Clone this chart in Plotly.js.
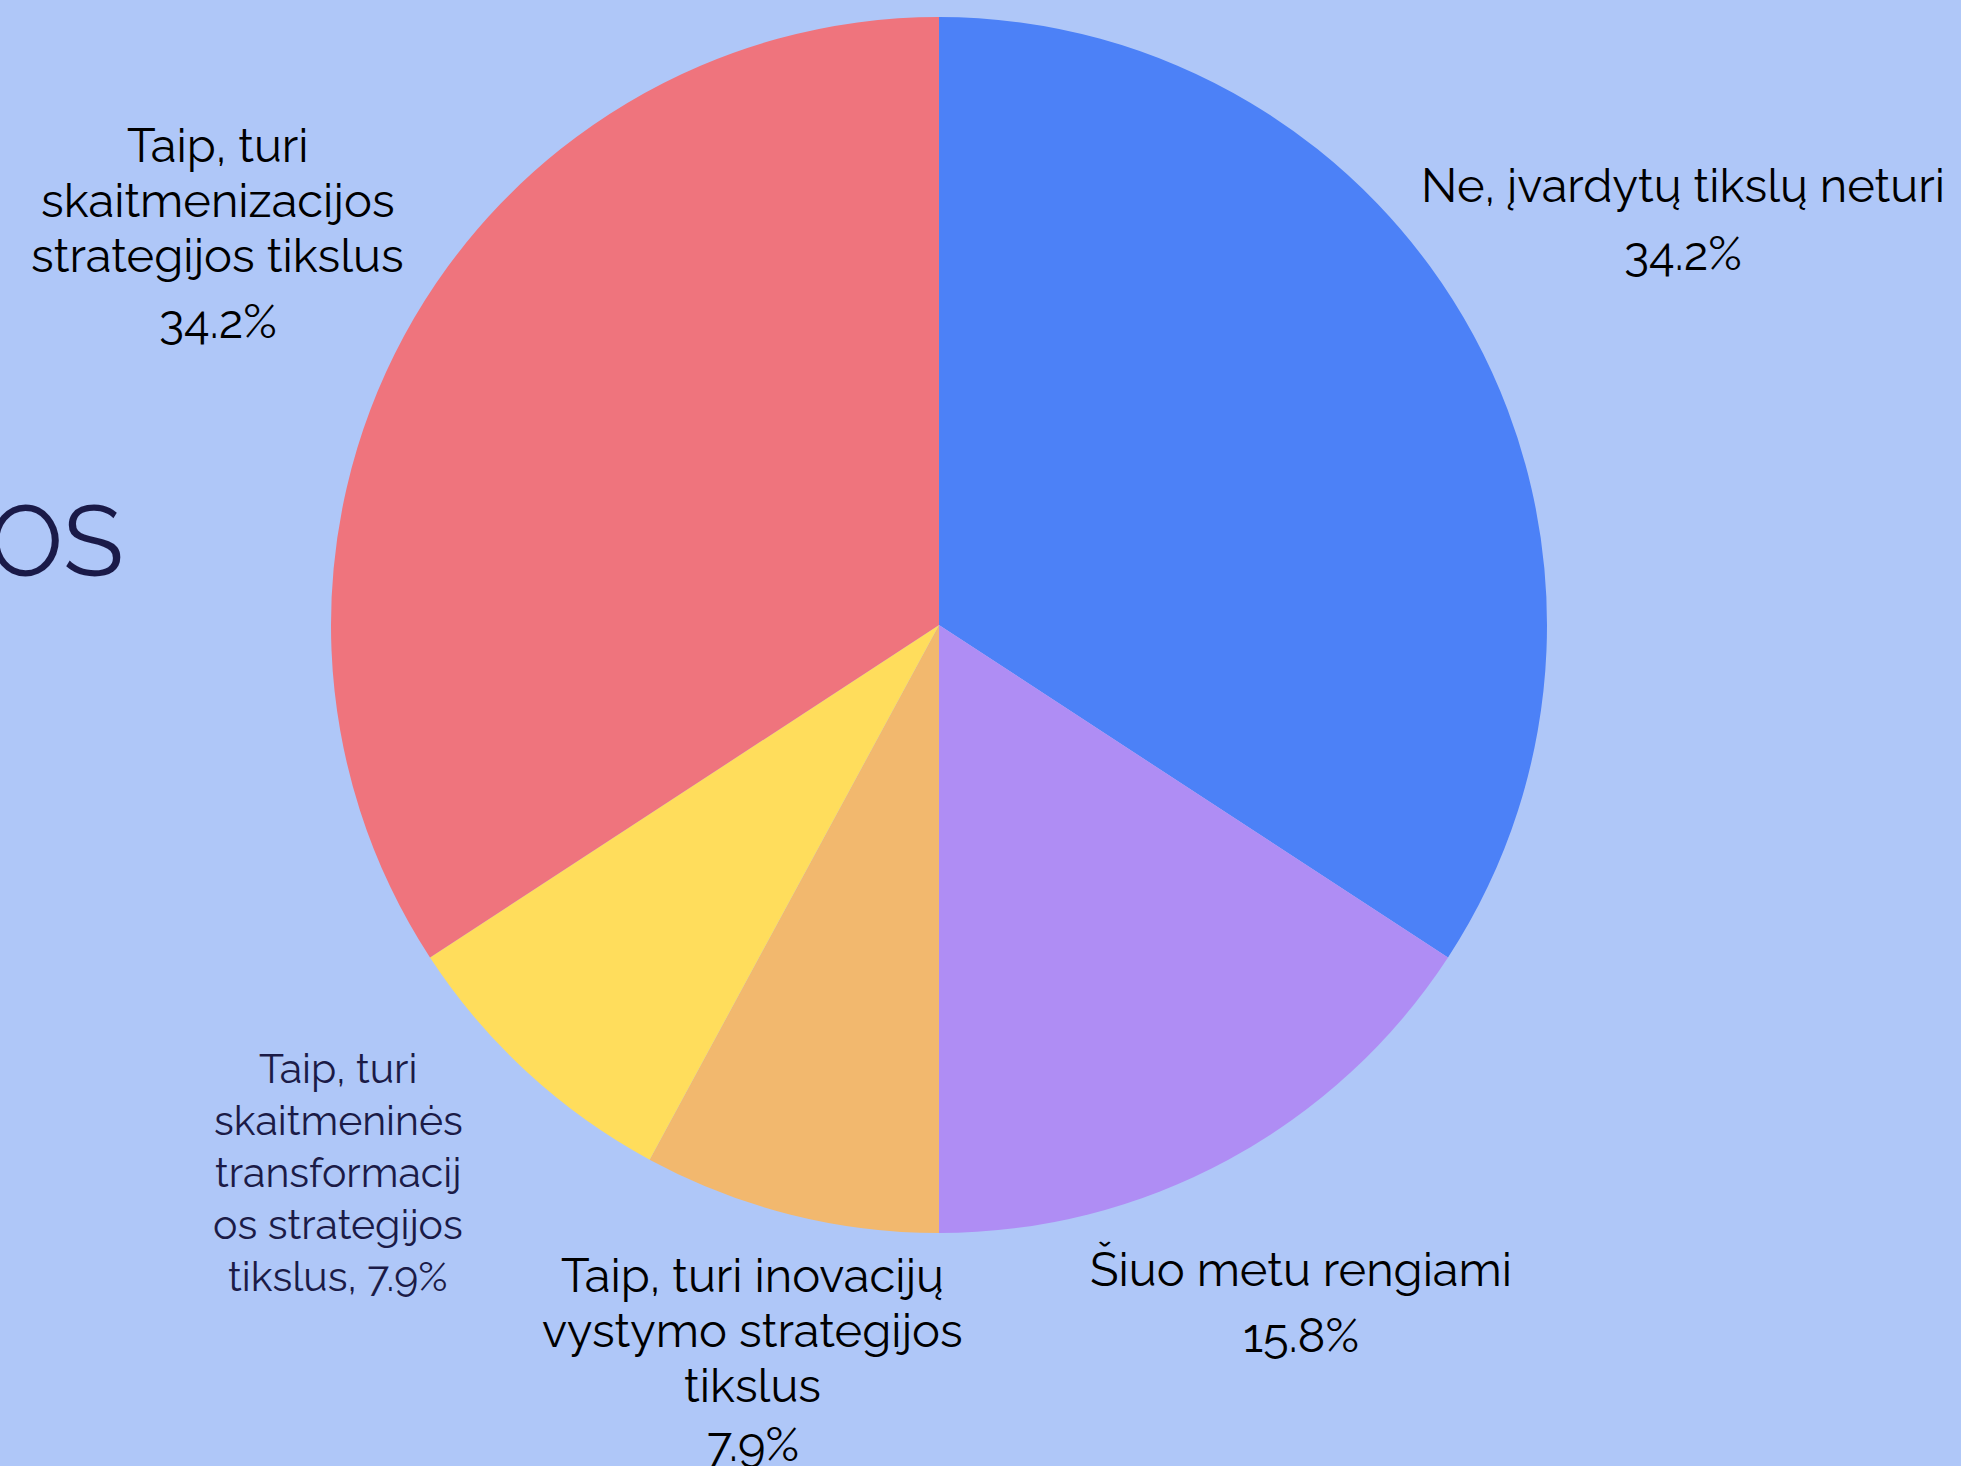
<!DOCTYPE html>
<html>
<head>
<meta charset="utf-8">
<script src="https://cdn.plot.ly/plotly-3.0.1.min.js"></script>
<style>
html,body{margin:0;padding:0;background:#afc7f8;}
#chart{width:1961px;height:1466px;}
</style>
</head>
<body>
<div id="chart"></div>
<script>
// ---- data ----
const categories = [
  "Ne, įvardytų tikslų neturi",
  "Šiuo metu rengiami",
  "Taip, turi inovacijų vystymo strategijos tikslus",
  "Taip, turi skaitmeninės transformacijos strategijos tikslus",
  "Taip, turi skaitmenizacijos strategijos tikslus"
];
const labelLines = [
  ["Ne, įvardytų tikslų neturi"],
  ["Šiuo metu rengiami"],
  ["Taip, turi inovacijų", "vystymo strategijos", "tikslus"],
  ["Taip, turi", "skaitmeninės", "transformacij", "os strategijos", "tikslus,"],
  ["Taip, turi", "skaitmenizacijos", "strategijos tikslus"]
];
const counts = [13, 6, 3, 3, 13];
const colors = ["#4c81f7", "#af8df4", "#f2b86e", "#ffdd5c", "#ef747d"];
const titleFragment = "OS";

// ---- layout / style settings ----
const W = 1961, H = 1466;
const CX = 939, CY = 625, R = 608;
const labelDist = [1.394, 1.263, 1.247, 1.337, 1.35];
const labelAngleShift = [-0.2, 0.3, 0, 5, 0.1];
const lineGap = [55, 55, 55, 52, 55];
const pctGap = [68, 66, 59, 52, 66];
const pctInline = [false, false, false, true, false];
const labelSize = [47, 47, 47, 41, 47];
const labelColor = ["#000000", "#000000", "#000000", "#1b1b47", "#000000"];
const font = "Raleway, Lato, 'Open Sans', sans-serif";

const total = counts.reduce((a, b) => a + b, 0);
const pct = counts.map(v => (100 * v / total).toFixed(1) + "%");

const trace = {
  type: "pie",
  labels: categories,
  values: counts,
  textinfo: "none",
  sort: false,
  direction: "clockwise",
  rotation: 0,
  marker: {colors: colors, line: {width: 0}},
  hoverinfo: "label+percent",
  domain: {x: [(CX - R) / W, (CX + R) / W], y: [1 - (CY + R) / H, 1 - (CY - R) / H]},
  showlegend: false
};

const annotations = [];
let cum = 0;
counts.forEach((v, i) => {
  const mid = (cum + v / 2) / total * 360 + labelAngleShift[i];
  cum += v;
  const th = mid * Math.PI / 180;
  const px = CX + labelDist[i] * R * Math.sin(th);
  const py = CY - labelDist[i] * R * Math.cos(th);
  let lines = labelLines[i].slice();
  const gaps = [];
  for (let k = 1; k < lines.length; k++) gaps.push(lineGap[i]);
  if (pctInline[i]) {
    lines[lines.length - 1] = lines[lines.length - 1] + " " + pct[i];
  } else {
    lines.push(pct[i]);
    gaps.push(pctGap[i]);
  }
  const span = gaps.reduce((a, b) => a + b, 0);
  let y = py - span / 2;
  lines.forEach((ln, k) => {
    if (k > 0) y += gaps[k - 1];
    annotations.push({
      text: ln,
      xref: "paper", yref: "paper",
      x: px / W, y: 1 - y / H,
      xanchor: "center", yanchor: "middle",
      showarrow: false,
      font: {family: font, size: labelSize[i], color: labelColor[i]}
    });
  });
});

annotations.push({
  text: titleFragment,
  xref: "paper", yref: "paper",
  x: 126 / W, y: 1 - 540 / H,
  xanchor: "right", yanchor: "middle",
  showarrow: false,
  font: {family: font, size: 100, color: "#1a1a48"}
});

const layout = {
  width: W,
  height: H,
  margin: {l: 0, r: 0, t: 0, b: 0},
  paper_bgcolor: "#afc7f8",
  plot_bgcolor: "#afc7f8",
  font: {family: font, color: "#000000"},
  showlegend: false,
  annotations: annotations
};

Plotly.newPlot("chart", [trace], layout, {staticPlot: true});
</script>
</body>
</html>
